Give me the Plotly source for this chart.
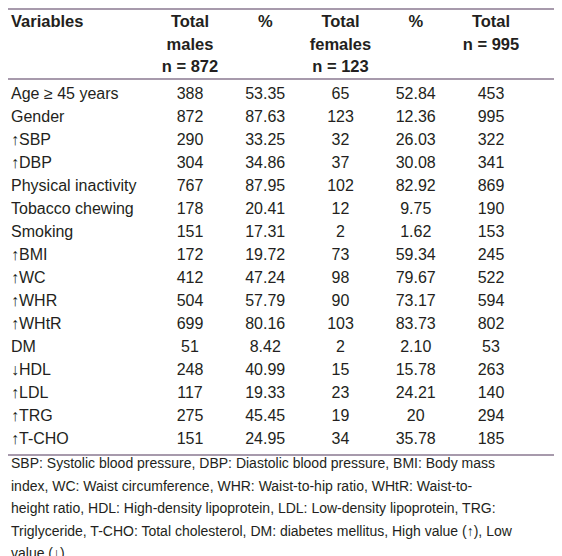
import plotly.graph_objects as go

# ---------------- data ----------------
variables = ["Age \u2265 45 years", "Gender", "\u2191SBP", "\u2191DBP", "Physical inactivity",
             "Tobacco chewing", "Smoking", "\u2191BMI", "\u2191WC", "\u2191WHR", "\u2191WHtR",
             "DM", "\u2193HDL", "\u2191LDL", "\u2191TRG", "\u2191T-CHO"]
total_males = ["388", "872", "290", "304", "767", "178", "151", "172", "412", "504", "699",
               "51", "248", "117", "275", "151"]
pct_males = ["53.35", "87.63", "33.25", "34.86", "87.95", "20.41", "17.31", "19.72", "47.24",
             "57.79", "80.16", "8.42", "40.99", "19.33", "45.45", "24.95"]
total_females = ["65", "123", "32", "37", "102", "12", "2", "73", "98", "90", "103",
                 "2", "15", "23", "19", "34"]
pct_females = ["52.84", "12.36", "26.03", "30.08", "82.92", "9.75", "1.62", "59.34", "79.67",
               "73.17", "83.73", "2.10", "15.78", "24.21", "20", "35.78"]
total_all = ["453", "995", "322", "341", "869", "190", "153", "245", "522", "594", "802",
             "53", "263", "140", "294", "185"]

header_cells = [["Variables"], ["Total", "males", "n = 872"], ["%"],
                ["Total", "females", "n = 123"], ["%"], ["Total", "n = 995"]]

footnote_lines = [
    "SBP: Systolic blood pressure, DBP: Diastolic blood pressure, BMI: Body mass",
    "index, WC: Waist circumference, WHR: Waist-to-hip ratio, WHtR: Waist-to-",
    "height ratio, HDL: High-density lipoprotein, LDL: Low-density lipoprotein, TRG:",
    "Triglyceride, T-CHO: Total cholesterol, DM: diabetes mellitus, High value (\u2191), Low",
    "value (\u2193)",
]

# ---------------- layout geometry ----------------
W, H = 562, 556
COL_PX0, COL_STEP = 182.0, 75.25     # pixel centre of column 1 and spacing
ROW_PX0, ROW_STEP = 87.0, 23.0       # pixel centre of row 0 and spacing
VAR_PX = 3.0                         # left edge of first column
HEAD_PX0, HEAD_STEP = 15.0, 22.5
FOOT_PX0, FOOT_STEP = 455.0, 22.5

def xval(px):
    return 1 + (px - COL_PX0) / COL_STEP

def yval(px):
    return (px - ROW_PX0) / ROW_STEP

TEXT = "#231f20"
RULE = "#8a7890"
BODY_FONT = "Liberation Sans, Arial, sans-serif"

fig = go.Figure()

rows = list(range(len(variables)))
# variable names
fig.add_trace(go.Scatter(
    x=[xval(VAR_PX)] * len(rows), y=rows, mode="text", text=variables,
    textposition="middle right", textfont=dict(family=BODY_FONT, size=16, color=TEXT),
    hoverinfo="skip", showlegend=False, cliponaxis=False))

# numeric columns
for ci, col in enumerate([total_males, pct_males, total_females, pct_females, total_all], start=1):
    fig.add_trace(go.Scatter(
        x=[ci] * len(rows), y=rows, mode="text", text=col,
        textposition="middle center", textfont=dict(family=BODY_FONT, size=16, color=TEXT),
        hoverinfo="skip", showlegend=False, cliponaxis=False))

# header
for ci, lines in enumerate(header_cells):
    ys = [yval(HEAD_PX0 + HEAD_STEP * k) for k in range(len(lines))]
    if ci == 0:
        xs = [xval(VAR_PX)] * len(lines)
        pos = "middle right"
    else:
        xs = [ci] * len(lines)
        pos = "middle center"
    fig.add_trace(go.Scatter(
        x=xs, y=ys, mode="text", text=["<b>%s</b>" % t for t in lines],
        textposition=pos, textfont=dict(family=BODY_FONT, size=16.5, color=TEXT),
        hoverinfo="skip", showlegend=False, cliponaxis=False))

# rules
for px in (1.0, 71.0, 447.0):
    fig.add_shape(type="line", xref="paper", x0=0, x1=1, yref="y", y0=yval(px), y1=yval(px),
                  line=dict(color=RULE, width=1.5))

# footnote
for k, line in enumerate(footnote_lines):
    fig.add_annotation(text=line, xref="paper", x=0.0, xanchor="left", xshift=1,
                       yref="y", y=yval(FOOT_PX0 + FOOT_STEP * k), yanchor="middle",
                       showarrow=False, font=dict(family=BODY_FONT, size=14, color=TEXT))

fig.update_layout(
    width=W, height=H, margin=dict(l=0, r=0, t=0, b=0),
    paper_bgcolor="white", plot_bgcolor="white",
    xaxis=dict(range=[xval(0), xval(W)], visible=False, fixedrange=True),
    yaxis=dict(range=[yval(H), yval(0)], visible=False, fixedrange=True),
)

fig.write_html("out.html")
